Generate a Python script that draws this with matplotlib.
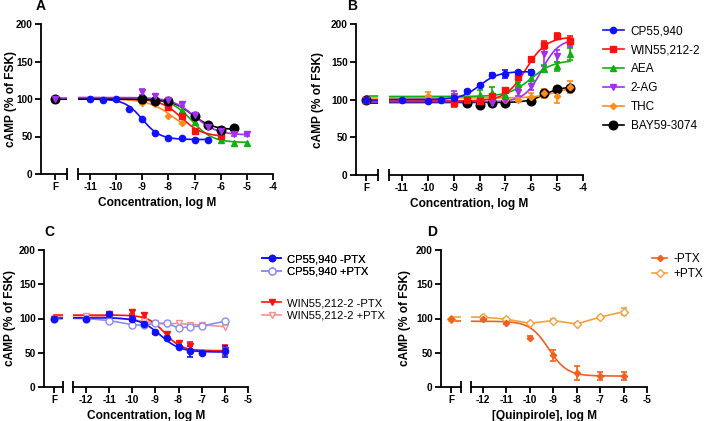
import numpy as np
import matplotlib
matplotlib.use("Agg")
import matplotlib.pyplot as plt
from matplotlib.lines import Line2D

plt.rcParams['font.family'] = ['Liberation Sans', 'DejaVu Sans']

# ---------------- data ----------------
# Panel A: inhibition of FSK-stimulated cAMP
A_cp_x = [-11, -10.5, -10, -9.5, -9, -8.5, -8, -7.5, -7, -6.5]
A_cp_y = [100, 99, 100, 87, 73, 55, 48, 48, 46, 45]
A_cp_fit = (100, 46, -9.0, 1.3)

A_win_x = [-9, -8.5, -8, -7.5, -7, -6]
A_win_y = [100, 97, 90, 77, 58, 51]
A_win_fit = (100, 50, -7.5, 1.1)

A_aea_x = [-9, -8.5, -8, -7.5, -7, -6, -5.5, -5]
A_aea_y = [100, 98, 97, 85, 70, 45, 42, 42]
A_aea_fit = (100, 42, -7.1, 1.1)

A_2ag_x = [-9, -8.5, -8, -7.5, -7, -6.5, -6, -5.5, -5]
A_2ag_y = [109, 104, 99, 93, 79, 63, 58, 53, 53]
A_2ag_err = [4, 3, 2, 2, 2, 2, 2, 2, 2]
A_2ag_fit = (102, 52, -7.0, 1.0)

A_thc_x = [-9, -8.5, -8, -7.5]
A_thc_y = [95, 93, 78, 68]
A_thc_fit = (100, 51, -7.8, 0.9)

A_bay_x = [-9, -8.5, -8, -7, -6.5, -6, -5.5]
A_bay_y = [100, 97, 98, 77, 65, 59, 61]
A_bay_fit = (100, 59, -7.1, 1.1)

# Panel B: stimulation of cAMP
B_cp_x = [-11, -10, -9.5, -9, -8.5, -8, -7.5, -7, -6.5, -6]
B_cp_y = [100, 98, 100, 102, 111, 119, 133, 134, 136, 137]
B_cp_err = [0, 0, 0, 2, 2, 2, 2, 5, 2, 2]
B_cp_fit = (100, 137, -8.0, 1.2)

B_win_x = [-9, -8.5, -8, -7.5, -7, -6.5, -6, -5.5, -5, -4.5]
B_win_y = [95, 99, 98, 104, 113, 130, 153, 172, 184, 178]
B_win_err = [5, 2, 2, 2, 2, 3, 3, 5, 4, 6]
B_win_fit = (98, 183, -6.2, 1.1)

B_aea_x = [-9, -8, -7.5, -7, -6.5, -6, -5.5, -5, -4.5]
B_aea_y = [103, 106, 109, 106, 120, 128, 141, 144, 160]
B_aea_err = [3, 6, 8, 3, 3, 4, 5, 6, 8]
B_aea_fit = (104, 152, -6.0, 1.0)

B_2ag_x = [-9, -8, -7.5, -7, -6.5, -6, -5.5, -5, -4.5]
B_2ag_y = [105, 100, 95, 99, 110, 118, 160, 158, 175]
B_2ag_err = [6, 2, 3, 2, 5, 6, 15, 8, 6]
B_2ag_fit = (97, 180, -5.6, 1.3)

B_thc_x = [-10, -9, -8, -7.5, -7, -6.5, -6, -5.5, -5, -4.5]
B_thc_y = [105, 101, 100, 99, 99, 100, 103, 108, 105, 116]
B_thc_err = [5, 3, 2, 2, 2, 2, 6, 6, 10, 8]
B_thc_fit = (102, 118, -5.0, 1.0)

B_bay_x = [-8.5, -8, -7.5, -7, -6, -5.5, -5, -4.5]
B_bay_y = [96, 93, 95, 96, 98, 108, 114, 115]
B_bay_fit = (96, 117, -5.5, 1.3)

# Panel C: PTX sensitivity
C_cpm_x = [-12, -11, -10, -9.5, -9, -8.5, -8, -7.5, -7, -6]
C_cpm_y = [100, 106, 100, 92, 80, 71, 59, 52, 50, 52]
C_cpm_err = [0, 4, 4, 3, 2, 2, 2, 8, 2, 8]
C_cpm_fit = (101, 51, -8.8, 1.0)

C_cpp_x = [-12, -11, -10, -9.5, -9, -8.5, -8, -7.5, -7, -6]
C_cpp_y = [100, 97, 91, 90, 93, 93, 86, 88, 89, 96]

C_winm_x = [-11, -10, -9.5, -8.5, -8, -7.5, -6]
C_winm_y = [106, 109, 105, 77, 64, 60, 54]
C_winm_err = [3, 3, 3, 2, 2, 5, 8]
C_winm_fit = (105, 53, -8.6, 1.2)

C_winp_x = [-12, -11, -10, -9.5, -9, -8.5, -8, -7.5, -7, -6]
C_winp_y = [104, 102, 98, 96, 93, 92, 93, 91, 91, 88]

# Panel D: quinpirole
D_m_x = [-12, -11, -10, -9, -8, -7, -6]
D_m_y = [100, 94, 72, 46, 20, 16, 16]
D_m_err = [2, 2, 2, 8, 10, 6, 6]
D_m_fit = (96, 16, -9.2, 1.1)

D_p_x = [-12, -11, -10, -9, -8, -7, -6]
D_p_y = [102, 99, 93, 97, 92, 102, 110]
D_p_err = [2, 2, 2, 2, 2, 2, 5]

F_value = 100

BLUE, RED, GREEN, PURPLE, ORANGE, BLACK = '#1010ff', '#ff1010', '#10b010', '#a030f0', '#ff8c1a', '#000000'
LBLUE, PINK = '#8c8cf0', '#f59090'
DORANGE, LORANGE = '#f06020', '#f5a040'


def logistic(x, fit):
    left, right, ec50, hill = fit
    return left + (right - left) / (1 + 10 ** ((ec50 - x) * hill))


W, H = 709, 421
fig = plt.figure(figsize=(W / 100, H / 100), dpi=100)


def frac(x0, x1, ytop, ybot):
    return [x0 / W, 1 - ybot / H, (x1 - x0) / W, (ybot - ytop) / H]


def make_panel(fx, fpos, mx, ylims_px, xlim, xticks, xlabel, letter, letter_xy, ylab_x):
    axf = fig.add_axes(frac(fx[0], fx[1], *ylims_px))
    axm = fig.add_axes(frac(mx[0], mx[1], *ylims_px))
    fp = (fpos - fx[0]) / (fx[1] - fx[0])
    axf.set_xlim(0, 1)
    axm.set_xlim(*xlim)
    for ax in (axf, axm):
        ax.set_ylim(0, 200)
        ax.spines['top'].set_visible(False)
        ax.spines['right'].set_visible(False)
        ax.spines['bottom'].set_linewidth(1.3)
        ax.spines['left'].set_linewidth(1.3)
        ax.tick_params(width=1.3, length=4, labelsize=7.2, pad=2)
        ax.patch.set_alpha(0)
    axm.spines['left'].set_visible(False)
    axm.set_yticks([])
    axf.set_yticks([0, 50, 100, 150, 200])
    axf.set_yticklabels(['0', '50', '100', '150', '200'], fontweight='bold')
    axf.set_xticks([fp])
    axf.set_xticklabels(['F'], fontweight='bold')
    axf.set_xticks([1], minor=True)
    axm.set_xticks(xticks)
    axm.set_xticklabels([str(t) for t in xticks], fontweight='bold')
    axm.set_xticks([xlim[0]], minor=True)
    for ax in (axf, axm):
        ax.tick_params(which='minor', direction='inout', length=9, width=1.3)
    cx = (fx[0] + mx[1]) / 2 / W
    ybot = ylims_px[1]
    fig.text(cx, 1 - (ybot + 29) / H, xlabel, ha='center', va='center',
             fontsize=8.6, fontweight='bold')
    fig.text(ylab_x / W, 1 - (ylims_px[0] + ylims_px[1]) / 2 / H, 'cAMP (% of FSK)',
             rotation=90, ha='center', va='center', fontsize=8.6, fontweight='bold')
    fig.text(letter_xy[0] / W, 1 - letter_xy[1] / H, letter, ha='center', va='center',
             fontsize=10, fontweight='bold')
    return axf, axm, fp


def draw_fit(axf, axm, fp, x, y, fit, color, marker, ms, err=None, mfc=None):
    xs = np.linspace(axm.get_xlim()[0], max(x), 200)
    axm.plot(xs, logistic(xs, fit), color=color, lw=1.2, zorder=2)
    if err is not None:
        axm.errorbar(x, y, yerr=err, fmt='none', ecolor=color, elinewidth=1.2,
                     capsize=2.5, capthick=1.2, zorder=3)
    axm.plot(x, y, ls='none', marker=marker, ms=ms, color=color,
             mfc=mfc if mfc else color, mew=1.0, zorder=4, clip_on=False)
    axf.plot([fp, 1], [fit[0], fit[0]], color=color, lw=1.2, zorder=2)
    axf.plot([fp], [F_value], ls='none', marker=marker, ms=ms, color=color,
             mfc=mfc if mfc else color, mew=1.0, zorder=4)


def draw_conn(axf, axm, fp, x, y, color, marker, ms, err=None, mfc=None):
    x0 = axm.get_xlim()[0]
    axm.plot([x0] + list(x), [y[0]] + list(y), color=color, lw=1.2, zorder=2)
    if err is not None:
        axm.errorbar(x, y, yerr=err, fmt='none', ecolor=color, elinewidth=1.2,
                     capsize=2.5, capthick=1.2, zorder=3)
    axm.plot(x, y, ls='none', marker=marker, ms=ms, color=color,
             mfc=mfc if mfc else color, mew=1.0, zorder=4, clip_on=False)
    axf.plot([fp, 1], [y[0], y[0]], color=color, lw=1.2, zorder=2)
    axf.plot([fp], [F_value], ls='none', marker=marker, ms=ms, color=color,
             mfc=mfc if mfc else color, mew=1.0, zorder=4)


# ---------------- Panel A ----------------
axf, axm, fp = make_panel((41, 67), 55, (78, 273), (24, 174), (-11.46, -4),
                          list(range(-11, -3)), 'Concentration, log M', 'A', (41, 6), 11)
draw_fit(axf, axm, fp, A_thc_x, A_thc_y, A_thc_fit, ORANGE, 'D', 3.2)
draw_fit(axf, axm, fp, A_aea_x, A_aea_y, A_aea_fit, GREEN, '^', 5)
draw_fit(axf, axm, fp, A_win_x, A_win_y, A_win_fit, RED, 's', 4.8)
draw_fit(axf, axm, fp, A_cp_x, A_cp_y, A_cp_fit, BLUE, 'o', 4.5)
draw_fit(axf, axm, fp, A_bay_x, A_bay_y, A_bay_fit, BLACK, 'o', 6.2)
draw_fit(axf, axm, fp, A_2ag_x, A_2ag_y, A_2ag_fit, PURPLE, 'v', 5, err=A_2ag_err)

# ---------------- Panel B ----------------
axf, axm, fp = make_panel((356, 378), 366, (389, 583), (24, 175), (-11.5, -4),
                          list(range(-11, -3)), 'Concentration, log M', 'B', (352, 6), 318)
draw_fit(axf, axm, fp, B_bay_x, B_bay_y, B_bay_fit, BLACK, 'o', 6.2)
draw_fit(axf, axm, fp, B_thc_x, B_thc_y, B_thc_fit, ORANGE, 'D', 3.2, err=B_thc_err)
draw_fit(axf, axm, fp, B_2ag_x, B_2ag_y, B_2ag_fit, PURPLE, 'v', 5, err=B_2ag_err)
draw_fit(axf, axm, fp, B_aea_x, B_aea_y, B_aea_fit, GREEN, '^', 5, err=B_aea_err)
draw_fit(axf, axm, fp, B_win_x, B_win_y, B_win_fit, RED, 's', 4.8, err=B_win_err)
draw_fit(axf, axm, fp, B_cp_x, B_cp_y, B_cp_fit, BLUE, 'o', 4.5, err=B_cp_err)

labels_ab = ['CP55,940', 'WIN55,212-2', 'AEA', '2-AG', 'THC', 'BAY59-3074']
styles_ab = [(BLUE, 'o', 4.5), (RED, 's', 4.8), (GREEN, '^', 5), (PURPLE, 'v', 5),
             (ORANGE, 'D', 3.2), (BLACK, 'o', 6.2)]
handles = [Line2D([], [], color=c, marker=m, ms=s, lw=1.2) for c, m, s in styles_ab]
fig.legend(handles, labels_ab, loc='upper left', bbox_to_anchor=(603 / W, 1 - 25 / H),
           frameon=False, fontsize=8.5, handlelength=1.75, handletextpad=0.6,
           labelspacing=0.6, borderpad=0, borderaxespad=0)

# ---------------- Panel C ----------------
axf, axm, fp = make_panel((44, 63), 54, (73, 248), (250, 387), (-12.56, -5),
                          list(range(-12, -4)), 'Concentration, log M', 'C', (49, 232), 10)
draw_conn(axf, axm, fp, C_winp_x, C_winp_y, PINK, 'v', 5, mfc='white')
draw_conn(axf, axm, fp, C_cpp_x, C_cpp_y, LBLUE, 'o', 5, mfc='white')
draw_fit(axf, axm, fp, C_winm_x, C_winm_y, C_winm_fit, RED, 'v', 4.5, err=C_winm_err)
draw_fit(axf, axm, fp, C_cpm_x, C_cpm_y, C_cpm_fit, BLUE, 'o', 4.5, err=C_cpm_err)

h1 = [Line2D([], [], color=BLUE, marker='o', ms=4.5, lw=1.2),
      Line2D([], [], color=LBLUE, marker='o', ms=5, mfc='white', lw=1.2)]
h2 = [Line2D([], [], color=RED, marker='v', ms=4.5, lw=1.2),
      Line2D([], [], color=PINK, marker='v', ms=5, mfc='white', lw=1.2)]
leg1 = fig.legend(h1, ['CP55,940 -PTX', 'CP55,940 +PTX'], loc='upper left',
                  bbox_to_anchor=(262 / W, 1 - 254 / H), frameon=False, fontsize=8.1,
                  handlelength=1.7, handletextpad=0.5, labelspacing=0.25,
                  borderpad=0, borderaxespad=0)
fig.add_artist(leg1)
fig.legend(h2, ['WIN55,212-2 -PTX', 'WIN55,212-2 +PTX'], loc='upper left',
           bbox_to_anchor=(262 / W, 1 - 298 / H), frameon=False, fontsize=8.1,
           handlelength=1.7, handletextpad=0.5, labelspacing=0.25,
           borderpad=0, borderaxespad=0)

# ---------------- Panel D ----------------
axf, axm, fp = make_panel((441, 461), 451, (471, 647), (250, 387), (-12.51, -5),
                          list(range(-12, -4)), '[Quinpirole], log M', 'D', (432, 232), 405)
draw_conn(axf, axm, fp, D_p_x, D_p_y, LORANGE, 'D', 4, err=D_p_err, mfc='white')
draw_fit(axf, axm, fp, D_m_x, D_m_y, D_m_fit, DORANGE, 'D', 3.2, err=D_m_err)

hd = [Line2D([], [], color=DORANGE, marker='D', ms=3.2, lw=1.2),
      Line2D([], [], color=LORANGE, marker='D', ms=4, mfc='white', lw=1.2)]
fig.legend(hd, ['-PTX', '+PTX'], loc='upper left', bbox_to_anchor=(652 / W, 1 - 253 / H),
           frameon=False, fontsize=8.5, handlelength=1.3, handletextpad=0.5,
           labelspacing=0.25, borderpad=0, borderaxespad=0)

fig.savefig('out.png', dpi=100)
